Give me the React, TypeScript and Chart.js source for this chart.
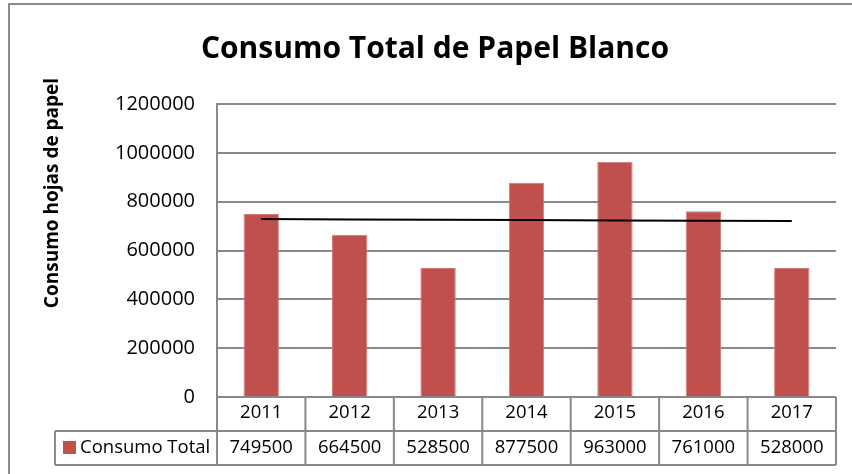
import React, { useEffect, useRef } from "react";
import { Chart, registerables } from "chart.js";

Chart.register(...registerables);

const years = ["2011", "2012", "2013", "2014", "2015", "2016", "2017"];
const consumo = [749500, 664500, 528500, 877500, 963000, 761000, 528000];
const yTicks = [0, 200000, 400000, 600000, 800000, 1000000, 1200000];
const chartTitle = "Consumo Total de Papel Blanco";
const yTitle = "Consumo hojas de papel";
const seriesName = "Consumo Total";

// Linear trendline (least squares) derived from the series, as the spreadsheet does
function trendOf(vals: number[]): number[] {
  const n = vals.length;
  const xs = vals.map((_, i) => i);
  const mx = xs.reduce((a, b) => a + b, 0) / n;
  const my = vals.reduce((a, b) => a + b, 0) / n;
  let sxy = 0, sxx = 0;
  for (let i = 0; i < n; i++) { sxy += (xs[i] - mx) * (vals[i] - my); sxx += (xs[i] - mx) ** 2; }
  const b = sxy / sxx;
  return xs.map((x) => my + b * (x - mx));
}

const GRID = "#898989";
const BAR = "#C0504D";
const FONT = "'Open Sans', sans-serif";

export default function App() {
  const ref = useRef<HTMLCanvasElement>(null);
  useEffect(() => {
    document.body.style.margin = "0";
    const decor = {
      id: "decor",
      afterDraw(chart: any) {
        const ctx = chart.ctx;
        const ca = chart.chartArea;
        const xs = chart.scales.x;
        ctx.save();
        // outer border
        ctx.strokeStyle = GRID;
        ctx.lineWidth = 2;
        ctx.strokeRect(9, 4, 1000, 1000);
        // title
        ctx.fillStyle = "#000";
        ctx.font = `bold 30px ${FONT}`;
        ctx.textAlign = "center";
        ctx.textBaseline = "alphabetic";
        ctx.fillText(chartTitle, 435, 58);
        // y title
        ctx.save();
        ctx.translate(53, 193);
        ctx.rotate(-Math.PI / 2);
        ctx.font = `bold 19px ${FONT}`;
        ctx.textBaseline = "middle";
        ctx.fillText(yTitle, 0, 0);
        ctx.restore();
        // table
        const n = years.length;
        const half = (xs.getPixelForValue(1) - xs.getPixelForValue(0)) / 2;
        const r0 = ca.bottom;
        const r1 = 431;
        const r2 = 465;
        const legLeft = 55;
        ctx.strokeStyle = GRID;
        ctx.lineWidth = 2;
        ctx.beginPath();
        ctx.moveTo(legLeft, r1); ctx.lineTo(ca.right, r1);
        ctx.moveTo(legLeft, r2); ctx.lineTo(ca.right, r2);
        ctx.moveTo(legLeft, r1); ctx.lineTo(legLeft, r2);
        for (let i = 0; i <= n; i++) {
          const x = i < n ? xs.getPixelForValue(i) - half : xs.getPixelForValue(n - 1) + half;
          ctx.moveTo(x, r0); ctx.lineTo(x, r2);
        }
        ctx.stroke();
        // legend key
        ctx.fillStyle = BAR;
        ctx.fillRect(63, 441, 13, 13);
        ctx.fillStyle = "#000";
        ctx.font = `18.5px ${FONT}`;
        ctx.textAlign = "left";
        ctx.textBaseline = "middle";
        ctx.fillText(seriesName, 80, (r1 + r2) / 2);
        ctx.textAlign = "center";
        for (let i = 0; i < n; i++) {
          ctx.fillText(String(consumo[i]), xs.getPixelForValue(i), (r1 + r2) / 2);
        }
        ctx.restore();
      },
    };
    const chart = new Chart(ref.current!, {
      type: "bar",
      data: {
        labels: years,
        datasets: [
          {
            type: "line",
            label: "Tendencia",
            data: trendOf(consumo),
            borderColor: "#000",
            borderWidth: 2,
            pointRadius: 0,
            fill: false,
            order: 0,
          } as any,
          {
            label: seriesName,
            data: consumo,
            backgroundColor: BAR,
            borderColor: "#d07a77",
            borderWidth: 1,
            categoryPercentage: 1,
            barPercentage: 0.4,
            order: 1,
          },
        ],
      },
      options: {
        responsive: false,
        animation: false,
        layout: { padding: { top: 104, left: 0, right: 16, bottom: 0 } },
        plugins: { legend: { display: false }, title: { display: false }, tooltip: { enabled: false } },
        scales: {
          x: {
            grid: { display: false, drawTicks: false },
            border: { display: false },
            ticks: { color: "#000", font: { family: FONT, size: 18.5 }, padding: 5, maxRotation: 0 },
            afterFit: (s: any) => { s.height = 77; },
          },
          y: {
            min: 0,
            max: 1200000,
            afterBuildTicks: (s: any) => { s.ticks = yTicks.map((v) => ({ value: v })); },
            grid: { color: GRID, lineWidth: 2, drawTicks: false },
            border: { display: true, color: GRID, width: 2 },
            ticks: { color: "#000", font: { family: FONT, size: 20 }, padding: 22, callback: (v: any) => String(v) },
            afterFit: (s: any) => { s.width = 217; },
          },
        },
      },
      plugins: [decor],
    });
    return () => chart.destroy();
  }, []);
  return (
    <div style={{ width: 852, height: 474, background: "#fff" }}>
      <canvas ref={ref} width={852} height={474} />
    </div>
  );
}
